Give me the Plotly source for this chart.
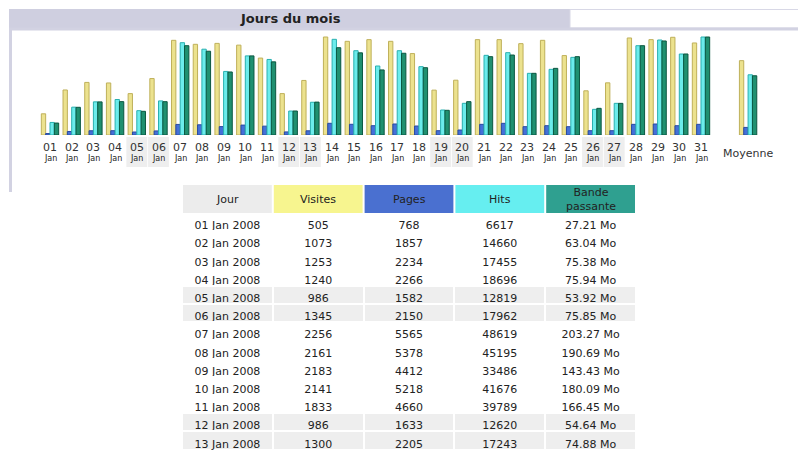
import datetime
import plotly.graph_objects as go

# ---------------- data ----------------
year = 2008
month_label = "Jan"
days = ["%02d" % d for d in range(1, 32)]
visits = [505, 1073, 1253, 1240, 986, 1345, 2256, 2161, 2183, 2141, 1833, 986, 1300,
          2335, 2232, 2272, 2232, 1940, 1069, 1306, 2272, 2272, 2177, 2256, 1892, 1053,
          1243, 2312, 2272, 2328, 2193]
pages = [768, 1857, 2234, 2266, 1582, 2150, 5565, 5378, 4412, 5218, 4660, 1633, 2205,
         6160, 5640, 4900, 5800, 4740, 2270, 2630, 5620, 6150, 4390, 4910, 4390, 2270,
         2270, 5620, 5790, 4900, 5620]
hits = [6617, 14660, 17455, 18696, 12819, 17962, 48619, 45195, 33486, 41676, 39789, 12620, 17243,
        50400, 44400, 36340, 44400, 36000, 13170, 16690, 41960, 43370, 32480, 34590, 40900, 13520,
        16680, 47040, 50040, 42660, 51620]
bandwidth = [27.21, 63.04, 75.38, 75.94, 53.92, 75.85, 203.27, 190.69, 143.43, 180.09, 166.45, 54.64, 74.88,
             198.70, 187.02, 148.10, 186.05, 153.20, 56.21, 75.90, 178.30, 182.04, 140.40, 151.70, 178.33, 60.70,
             72.05, 203.30, 214.02, 184.40, 223.06]
avg_label = "Moyenne"
title_text = "Jours du mois"
table_header = ["Jour", "Visites", "Pages", "Hits", "Bande<br>passante"]
header_colors = ["#ECECEC", "#F7F58F", "#4A70D0", "#66EEF0", "#2FA090"]
table_rows_shown = 13
unit = "Mo"

# ---------------- helpers ----------------
W, H = 798, 456
def fx(px):
    return px / W
def fy(py):
    return 1 - py / H

n = len(days)
xs = list(range(1, n + 1))
avg_x = 33.17
mean = lambda a: sum(a) / len(a)
bx = xs + [avg_x]

# plot geometry
x0_px, x_unit = 50.0, 21.7
xr0, xr1 = 0.5, 34.0
x_left = x0_px - (1 - xr0) * x_unit
x_right = x_left + (xr1 - xr0) * x_unit
base_px, top_px, maxbar_px = 135, 30, 98
k = (base_px - top_px) / maxbar_px
ydom = [fy(base_px), fy(top_px)]

fig = go.Figure()

series = [
    (visits, "y", -0.4, "#ECE28E", "#BFB05A"),
    (pages, "y2", -0.2, "#4470D8", "#2A4AA0"),
    (hits, "y2", 0.0, "#6CECEC", "#2AB0B0"),
    (bandwidth, "y3", 0.2, "#1F9070", "#0B5741"),
]
for vals, ax, off, fc, lc in series:
    fig.add_trace(go.Bar(
        x=bx, y=vals + [mean(vals)], yaxis=ax, offset=off, width=0.2,
        marker=dict(color=fc, line=dict(color=lc, width=1)),
        showlegend=False, hoverinfo="skip", cliponaxis=False,
    ))

# table body
tcols = [
    ["%s %s %d" % (d, month_label, year) for d in days[:table_rows_shown]],
    [str(v) for v in visits[:table_rows_shown]],
    [str(v) for v in pages[:table_rows_shown]],
    [str(v) for v in hits[:table_rows_shown]],
    ["%.2f %s" % (v, unit) for v in bandwidth[:table_rows_shown]],
]
weekend = [datetime.date(year, 1, d).weekday() >= 5 for d in xs]
row_fill = ["#EEEEEE" if weekend[i] else "#FFFFFF" for i in range(table_rows_shown)]
tab_l, tab_r = 182, 636
tab_top = 197
fig.add_trace(go.Table(
    domain=dict(x=[fx(tab_l), fx(tab_r)], y=[0, fy(tab_top)]),
    columnwidth=[1, 1, 1, 1, 1],
    header=dict(values=[], height=1, fill_color="rgba(0,0,0,0)",
                line=dict(color="rgba(0,0,0,0)", width=0)),
    cells=dict(values=tcols,
               fill_color=[row_fill] * 5,
               line=dict(color="white", width=2),
               font=dict(family="DejaVu Sans", size=11, color="#222222"),
               align="center", height=18.2),
))

shapes = []
# title bar and frame
shapes.append(dict(type="rect", xref="paper", yref="paper", x0=fx(9), x1=fx(570), y0=fy(9), y1=fy(29),
                   fillcolor="#CFCFE0", line=dict(width=0), layer="below"))
shapes.append(dict(type="rect", xref="paper", yref="paper", x0=fx(570), x1=fx(805), y0=fy(9.5), y1=fy(28),
                   fillcolor="#FFFFFF", line=dict(color="#D8D8E6", width=1), layer="below"))
shapes.append(dict(type="line", xref="paper", yref="paper", x0=fx(9), x1=fx(805), y0=fy(29), y1=fy(29),
                   line=dict(color="#D2D2E2", width=3), layer="below"))
shapes.append(dict(type="line", xref="paper", yref="paper", x0=fx(10.5), x1=fx(10.5), y0=fy(28), y1=fy(192),
                   line=dict(color="#D2D2E2", width=3), layer="below"))
# weekend label backgrounds
for d, we in zip(xs, weekend):
    if we:
        shapes.append(dict(type="rect", xref="x", yref="paper", x0=d - 0.48, x1=d + 0.48,
                           y0=fy(167), y1=fy(137), fillcolor="#EEEEEE", line=dict(width=0), layer="below"))

annotations = [dict(text="<b>%s</b>" % title_text, x=fx(290), y=fy(19), xref="paper", yref="paper",
                    xanchor="center", yanchor="middle", showarrow=False,
                    font=dict(family="DejaVu Sans", size=13, color="#222222"))]
for d, lab in zip(xs, days):
    annotations.append(dict(text=lab, x=d, y=fy(147), xref="x", yref="paper", showarrow=False,
                            xanchor="center", yanchor="middle",
                            font=dict(family="DejaVu Sans", size=11, color="#333333")))
    annotations.append(dict(text=month_label, x=d, y=fy(159), xref="x", yref="paper", showarrow=False,
                            xanchor="center", yanchor="middle",
                            font=dict(family="DejaVu Sans", size=8, color="#222222")))
annotations.append(dict(text=avg_label, x=avg_x, y=fy(153), xref="x", yref="paper", showarrow=False,
                        xanchor="center", yanchor="middle",
                        font=dict(family="DejaVu Sans", size=11, color="#333333")))

# table header cells
colw = (tab_r - tab_l) / len(table_header)
for j, (lab, col) in enumerate(zip(table_header, header_colors)):
    cx0 = tab_l + j * colw + 1
    cx1 = tab_l + (j + 1) * colw - 1
    shapes.append(dict(type="rect", xref="paper", yref="paper", x0=fx(cx0), x1=fx(cx1),
                       y0=fy(213), y1=fy(185), fillcolor=col, line=dict(width=0)))
    annotations.append(dict(text=lab, x=fx((cx0 + cx1) / 2), y=fy(199), xref="paper", yref="paper",
                            xanchor="center", yanchor="middle", showarrow=False,
                            font=dict(family="DejaVu Sans", size=11, color="#222222")))

fig.update_layout(
    width=W, height=H, margin=dict(l=0, r=0, t=0, b=0),
    paper_bgcolor="white", plot_bgcolor="white", barmode="overlay",
    xaxis=dict(domain=[fx(x_left), fx(x_right)], range=[xr0, xr1], showticklabels=False,
               showgrid=False, zeroline=False, showline=False, anchor="y"),
    yaxis=dict(domain=ydom, range=[0, max(visits) * k], visible=False, fixedrange=True),
    yaxis2=dict(domain=ydom, range=[0, max(hits) * k], visible=False, overlaying="y"),
    yaxis3=dict(domain=ydom, range=[0, max(bandwidth) * k], visible=False, overlaying="y"),
    shapes=shapes, annotations=annotations,
    font=dict(family="DejaVu Sans"),
)

fig.write_html("out.html", config={"displayModeBar": False},
               post_script="document.body.style.margin='0';")
